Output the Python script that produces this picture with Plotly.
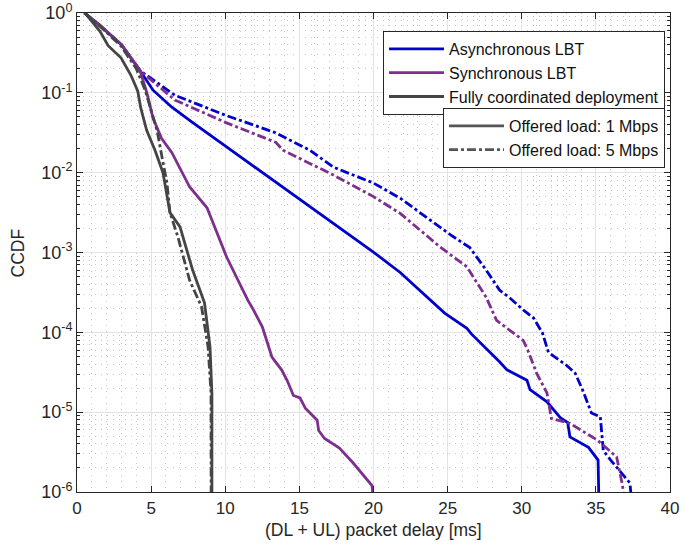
import plotly.graph_objects as go

# Packet delay CCDF curves: delay [ms] and CCDF value
async_1_x = [0.5, 1.5, 3.0, 4.25, 5.13, 6.4, 7.76, 9.3, 10.86, 13.9, 17.27, 19.97, 21.8, 24.8, 26.3, 26.6,
             28.5, 29.0, 30.35, 30.56, 31.7, 32.6, 33.1, 33.25, 34.5, 35.15, 35.2]
async_1_y = [1, 0.71, 0.40, 0.19, 0.108, 0.066, 0.043, 0.0269, 0.0166, 0.00646, 0.00234, 0.00102, 0.000562,
             0.000174, 0.000112, 9.55e-5, 4.27e-5, 3.39e-5, 2.51e-5, 1.91e-5, 1.35e-5, 8.51e-6, 7.4e-6, 4.9e-6,
             3.63e-6, 2.51e-6, 8e-7]

async_5_x = [0.5, 1.5, 3.0, 4.25, 6.6, 10.0, 13.4, 15.7, 17.3, 20.0, 21.8, 22.9, 25.2, 26.5, 27.6, 28.5, 29.2,
             30.1, 30.8, 31.4, 31.8, 33.0, 33.6, 34.1, 34.7, 35.3, 35.5, 36.0, 37.3, 37.4]
async_5_y = [1, 0.71, 0.40, 0.19, 0.0933, 0.0525, 0.0316, 0.0191, 0.0117, 0.00741, 0.00479, 0.00339, 0.00166,
             0.00115, 0.000603, 0.000339, 0.000269, 0.000191, 0.000151, 9.77e-5, 5.62e-5, 3.89e-5, 3.09e-5,
             1.91e-5, 9.77e-6, 8.71e-6, 3.31e-6, 2.51e-6, 1.29e-6, 8e-7]

sync_1_x = [0.5, 1.5, 3.0, 4.25, 4.7, 5.13, 5.7, 6.4, 7.6, 8.77, 10.1, 11.53, 11.9, 12.5, 13.15, 13.8, 14.17,
            14.6, 15.04, 15.4, 16.2, 16.3, 16.7, 17.7, 18.6, 19.9, 20.0]
sync_1_y = [1, 0.71, 0.40, 0.19, 0.102, 0.0479, 0.0269, 0.0178, 0.00661, 0.00363, 0.000871, 0.000251,
            0.000191, 0.000117, 4.9e-5, 3.39e-5, 2.51e-5, 1.62e-5, 1.51e-5, 1.12e-5, 7.94e-6, 5.89e-6, 4.68e-6,
            3.55e-6, 2.34e-6, 1.2e-6, 8e-7]

sync_5_x = [0.5, 1.5, 3.0, 4.25, 6.6, 10.0, 13.4, 13.9, 17.3, 20.0, 21.8, 24.5, 26.3, 27.6, 28.3, 30.1, 30.4,
            31.0, 31.7, 32.0, 33.25, 35.1, 36.4, 36.8, 36.9]
sync_5_y = [1, 0.71, 0.40, 0.19, 0.0813, 0.0427, 0.024, 0.0191, 0.00933, 0.00501, 0.00309, 0.00117, 0.000661,
            0.000275, 0.000141, 7.94e-5, 6.03e-5, 3.09e-5, 1.74e-5, 8.32e-6, 7.24e-6, 4.47e-6, 2.75e-6, 1.2e-6,
            8e-7]

coord_1_x = [0.55, 1.55, 2.1, 2.97, 3.64, 4.1, 4.3, 4.7, 5.26, 5.8, 6.27, 6.95, 7.8, 8.6, 8.97, 9.1, 9.1]
coord_1_y = [1, 0.589, 0.389, 0.275, 0.166, 0.105, 0.0646, 0.0339, 0.0191, 0.01, 0.00316, 0.00209, 0.000603,
             0.000234, 6.61e-5, 1.74e-5, 8e-7]

coord_5_x = [0.5, 1.5, 3.0, 4.0, 4.6, 5.4, 5.73, 6.07, 6.27, 6.8, 7.6, 8.4, 8.84, 9.04, 9.05]
coord_5_y = [1, 0.7, 0.38, 0.2, 0.108, 0.0339, 0.0158, 0.00741, 0.00316, 0.00158, 0.000447, 0.000209,
             6.61e-5, 1.74e-5, 8e-7]

scheme_names = ["Asynchronous LBT", "Synchronous LBT", "Fully coordinated deployment"]
load_names = ["Offered load: 1 Mbps", "Offered load: 5 Mbps"]

x_ticks = [0, 5, 10, 15, 20, 25, 30, 35, 40]
y_exponents = [0, -1, -2, -3, -4, -5, -6]

BLUE = "#0000CC"
PURPLE = "#7E2F8E"
GRAY = "#454545"
LW = 2.8
DASHDOT = "9px,3px,3px,3px"

fig = go.Figure()

curves = [
    (async_1_x, async_1_y, BLUE, "solid", scheme_names[0], True),
    (async_5_x, async_5_y, BLUE, DASHDOT, scheme_names[0], False),
    (sync_5_x, sync_5_y, PURPLE, DASHDOT, scheme_names[1], False),
    (sync_1_x, sync_1_y, PURPLE, "solid", scheme_names[1], True),
    (coord_5_x, coord_5_y, GRAY, DASHDOT, scheme_names[2], False),
    (coord_1_x, coord_1_y, GRAY, "solid", scheme_names[2], True),
]
legend_rank = {scheme_names[0]: 1, scheme_names[1]: 2, scheme_names[2]: 3}
for xs, ys, color, dash, name, show in curves:
    fig.add_trace(go.Scatter(
        x=xs, y=ys, mode="lines", name=name, showlegend=show,
        legendrank=legend_rank[name],
        line=dict(color=color, width=LW, dash=dash),
        legend="legend",
    ))

# Line-style key (second legend)
for name, dash in zip(load_names, ["solid", DASHDOT]):
    fig.add_trace(go.Scatter(
        x=[None], y=[None], mode="lines", name=name,
        line=dict(color="#555555", width=LW, dash=dash),
        legend="legend2",
    ))

minor_y = [m * 10.0 ** e for e in range(-6, 0) for m in range(2, 10)]
minor_x = [v for v in range(0, 41) if v % 5 != 0]

FONT = "Liberation Sans, Arial, sans-serif"
AX = "#262626"
MINOR_DASH = "1px,5px"

fig.update_layout(
    width=686, height=547,
    margin=dict(l=77, r=16, t=13, b=55, autoexpand=False),
    paper_bgcolor="white", plot_bgcolor="white",
    font=dict(family=FONT, size=17, color=AX),
    xaxis=dict(
        range=[0, 40], tickvals=x_ticks, ticktext=[str(v) for v in x_ticks],
        showline=True, linecolor=AX, linewidth=1, mirror="ticks",
        ticks="inside", ticklen=6, tickcolor=AX, automargin=False,
        ticklabelstandoff=1,
        showgrid=True, gridcolor="#E3E3E3", gridwidth=1, zeroline=False,
        minor=dict(tickvals=minor_x, ticks="", showgrid=True, gridcolor="#C8C8C8",
                   griddash=MINOR_DASH, gridwidth=1),
        tickfont=dict(size=17),
    ),
    yaxis=dict(
        type="log", range=[-6, 0], automargin=False,
        tickvals=[10.0 ** e for e in y_exponents],
        ticktext=[f"10<sup>{e}</sup>" for e in y_exponents],
        showline=True, linecolor=AX, linewidth=1, mirror="ticks",
        ticks="inside", ticklen=6, tickcolor=AX,
        showgrid=True, gridcolor="#E3E3E3", gridwidth=1, zeroline=False,
        minor=dict(tickvals=minor_y, ticks="inside", ticklen=3, tickcolor=AX,
                   showgrid=True, gridcolor="#C8C8C8", griddash=MINOR_DASH, gridwidth=1),
        tickfont=dict(size=18),
    ),
    legend=dict(
        x=0.9916, y=0.9624, xanchor="right", yanchor="top",
        bgcolor="white", bordercolor=AX, borderwidth=1,
        font=dict(size=16, color="#111111"), itemwidth=55,
        tracegroupgap=0,
    ),
    legend2=dict(
        x=0.9916, y=0.8017, xanchor="right", yanchor="top",
        bgcolor="white", bordercolor=AX, borderwidth=1,
        font=dict(size=16, color="#111111"), itemwidth=55,
        tracegroupgap=0,
    ),
    annotations=[
        dict(text="(DL + UL) packet delay [ms]", xref="paper", yref="paper",
             x=0.5, y=-0.079, xanchor="center", yanchor="middle", showarrow=False,
             font=dict(size=17.5, color=AX)),
        dict(text="CCDF", xref="paper", yref="paper", textangle=-90,
             x=-0.0995, y=0.5, xanchor="center", yanchor="middle", showarrow=False,
             font=dict(size=17.5, color=AX)),
    ],
)

fig.write_html("out.html")
